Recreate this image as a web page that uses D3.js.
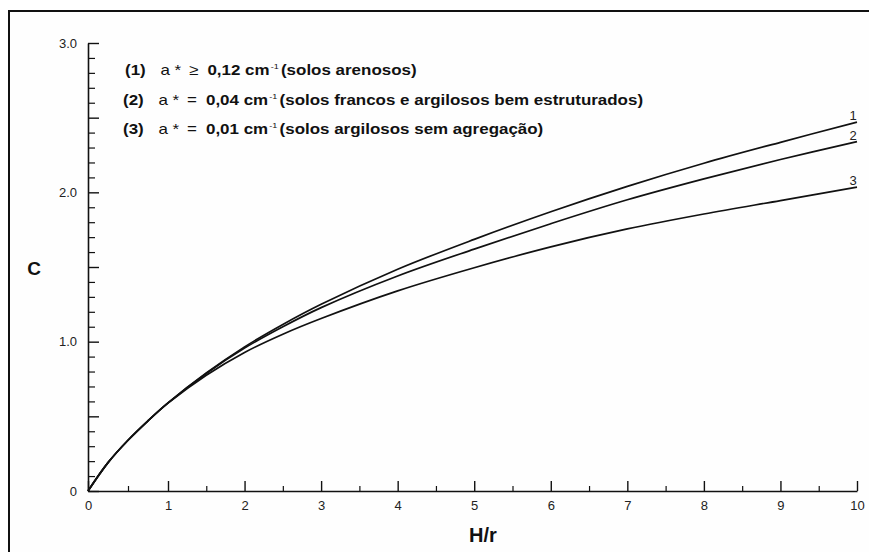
<!DOCTYPE html>
<html>
<head>
<meta charset="utf-8">
<script src="https://cdn.jsdelivr.net/npm/d3@7"></script>
<style>
  html, body { margin: 0; padding: 0; background: #fff; }
  svg { display: block; font-family: "Liberation Sans", Arial, sans-serif; }
</style>
</head>
<body>
<svg id="chart" width="869" height="552"></svg>
<script>
// ---- data ----
const hr = [0, 0.25, 0.5, 0.75, 1, 1.5, 2, 2.5, 3, 4, 5, 6, 7, 8, 9, 10];
const c1 = [0, 0.19, 0.34, 0.47, 0.59, 0.79, 0.965, 1.115, 1.25, 1.485, 1.685, 1.87, 2.04, 2.195, 2.335, 2.47];
const c2 = [0, 0.19, 0.34, 0.47, 0.59, 0.787, 0.957, 1.10, 1.228, 1.44, 1.62, 1.79, 1.95, 2.09, 2.22, 2.34];
const c3 = [0, 0.19, 0.34, 0.47, 0.588, 0.775, 0.928, 1.05, 1.155, 1.34, 1.495, 1.635, 1.755, 1.855, 1.945, 2.035];
const seriesNames = ["1", "2", "3"];
const xTicks = [0, 1, 2, 3, 4, 5, 6, 7, 8, 9, 10];
const xMinorTicks = [0.5, 1.5, 2.5, 3.5, 4.5, 5.5, 6.5, 7.5, 8.5, 9.5];
const yTicks = [0, 1, 2, 3];
const yTickLabels = ["0", "1.0", "2.0", "3.0"];
const yHalfTicks = [0.5, 1.5, 2.5];
const yMinorTicks = d3.range(1, 30).map(i => i / 10).filter(v => Math.abs(v * 2 - Math.round(v * 2)) > 1e-9);
const legendRows = [
  { num: "(1)", rel: "\u2265", val: "0,12 cm", desc: "(solos arenosos)" },
  { num: "(2)", rel: "=", val: "0,04 cm", desc: "(solos francos e argilosos bem estruturados)" },
  { num: "(3)", rel: "=", val: "0,01 cm", desc: "(solos argilosos sem agregação)" }
];
const xTitle = "H/r";
const yTitle = "C";

// ---- drawing ----
const svg = d3.select("#chart");

// outer frame (extends beyond the right and bottom edges, as in the reference)
svg.append("rect")
  .attr("x", 9).attr("y", 11).attr("width", 900).attr("height", 600)
  .attr("fill", "#fefefe").attr("stroke", "#111").attr("stroke-width", 2);

const x = d3.scaleLinear().domain([0, 1, 10]).range([88, 168, 857]);
const y = d3.scaleLinear().domain([0, 3]).range([491, 43]);

// x axis: major ticks with labels, pointing up
const xAxis = svg.append("g").attr("transform", `translate(0,${y(0)})`)
  .call(d3.axisBottom(x).tickValues(xTicks).tickSize(-10).tickPadding(10)
    .tickFormat(d => String(d)).tickSizeOuter(0));
xAxis.select(".domain").attr("stroke", "#111").attr("stroke-width", 1.6);
xAxis.selectAll(".tick line").attr("stroke", "#111").attr("stroke-width", 1.4);
xAxis.selectAll(".tick text").attr("font-size", 13).attr("fill", "#222");

const xMinor = svg.append("g").attr("transform", `translate(0,${y(0)})`)
  .call(d3.axisBottom(x).tickValues(xMinorTicks).tickSize(-5).tickFormat(""));
xMinor.select(".domain").remove();
xMinor.selectAll(".tick line").attr("stroke", "#111").attr("stroke-width", 1.2);

// y axis
const yAxis = svg.append("g").attr("transform", `translate(${x(0)},0)`)
  .call(d3.axisLeft(y).tickValues(yTicks).tickSize(-11).tickPadding(11)
    .tickFormat((d, i) => yTickLabels[i]).tickSizeOuter(0));
yAxis.select(".domain").attr("stroke", "#111").attr("stroke-width", 1.6);
yAxis.selectAll(".tick line").attr("stroke", "#111").attr("stroke-width", 1.4);
yAxis.selectAll(".tick text").attr("font-size", 13).attr("fill", "#222");

const yHalf = svg.append("g").attr("transform", `translate(${x(0)},0)`)
  .call(d3.axisLeft(y).tickValues(yHalfTicks).tickSize(-11).tickFormat(""));
yHalf.select(".domain").remove();
yHalf.selectAll(".tick line").attr("stroke", "#111").attr("stroke-width", 1.4);

const yMinor = svg.append("g").attr("transform", `translate(${x(0)},0)`)
  .call(d3.axisLeft(y).tickValues(yMinorTicks).tickSize(-7).tickFormat(""));
yMinor.select(".domain").remove();
yMinor.selectAll(".tick line").attr("stroke", "#111").attr("stroke-width", 1.2);

// axis titles
svg.append("text").attr("x", 483).attr("y", 542).attr("text-anchor", "middle")
  .attr("font-size", 20).attr("font-weight", "bold").attr("fill", "#111")
  .text(xTitle);
svg.append("text").attr("x", 34).attr("y", 275).attr("text-anchor", "middle")
  .attr("font-size", 19).attr("font-weight", "bold").attr("fill", "#111")
  .text(yTitle);

// curves
const line = d3.line().x(d => x(d[0])).y(d => y(d[1])).curve(d3.curveCatmullRom.alpha(0.5));
const allSeries = [c1, c2, c3];
allSeries.forEach((vals, i) => {
  const pts = hr.map((h, j) => [h, vals[j]]);
  svg.append("path").datum(pts).attr("d", line)
    .attr("fill", "none").attr("stroke", "#111").attr("stroke-width", 1.7);
  const last = pts[pts.length - 1];
  svg.append("text").attr("x", x(last[0]) - 4).attr("y", y(last[1]) - 2)
    .attr("text-anchor", "middle").attr("font-size", 13).attr("fill", "#222")
    .text(seriesNames[i]);
});

// legend text (slightly widened glyphs, like the scanned original)
const legendTop = 75, legendStep = 29.5;
legendRows.forEach((r, i) => {
  const t = svg.append("text")
    .attr("transform", `translate(${i === 0 ? 125 : 123},${legendTop + i * legendStep}) scale(1.13,1)`)
    .attr("font-size", 15).attr("fill", "#111");
  t.append("tspan").attr("font-weight", "bold").text(r.num);
  t.append("tspan").attr("dx", 13).attr("font-weight", "normal").text("a *");
  t.append("tspan").attr("dx", 7).attr("font-weight", "normal").text(r.rel);
  t.append("tspan").attr("dx", 8).attr("font-weight", "bold").text(r.val);
  t.append("tspan").attr("dx", 1).attr("dy", -6).attr("font-size", 8).attr("font-weight", "normal").text("-1");
  t.append("tspan").attr("dx", 2).attr("dy", 6).attr("font-weight", "bold").text(r.desc);
});
</script>
</body>
</html>
